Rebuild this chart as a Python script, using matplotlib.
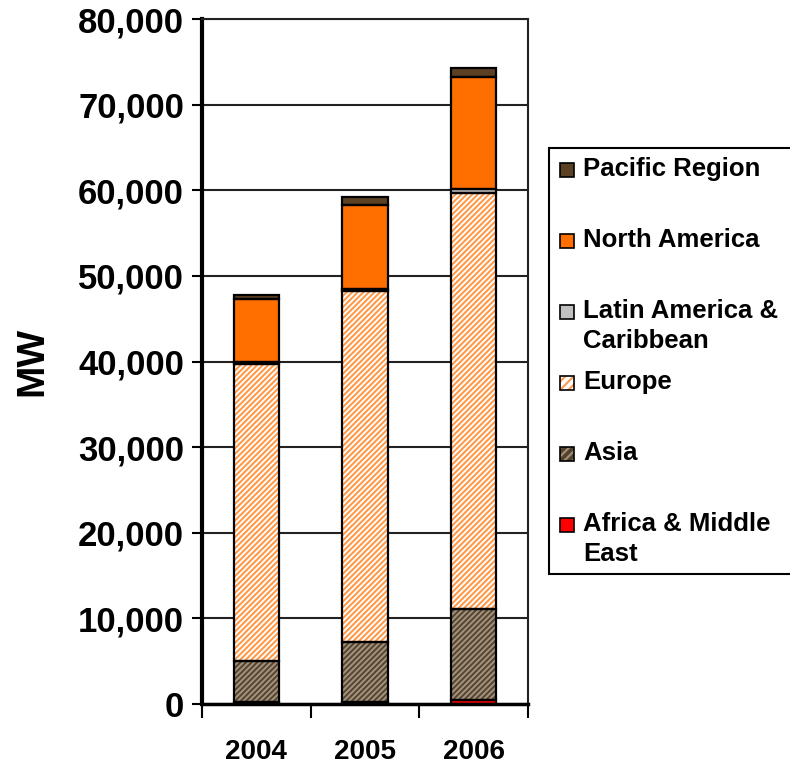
import numpy as np
import matplotlib.pyplot as plt
from matplotlib.patches import Rectangle

# Installed wind capacity by region, MW
years = ["2004", "2005", "2006"]
africa = [240, 269, 441]
asia = [4726, 7022, 10667]
europe = [34725, 40932, 48545]
latin_america = [215, 226, 507]
north_america = [7367, 9863, 13062]
pacific = [547, 842, 1020]

regions = ["Africa & Middle\nEast", "Asia", "Europe",
           "Latin America &\nCaribbean", "North America", "Pacific Region"]
series = [africa, asia, europe, latin_america, north_america, pacific]
faces = ["#ff0000", "#56412a", "white", "#c0c0c0", "#ff6f00", "#5c4023"]
hatches = [None, "//////", "//////", None, None, None]
hatch_cols = ["#ff0000", "#9e917f", "#ff9a4a", "#c0c0c0", "#ff6f00", "#5c4023"]

plt.rcParams["font.family"] = ["Liberation Sans", "DejaVu Sans"]
plt.rcParams["font.weight"] = "bold"
plt.rcParams["hatch.linewidth"] = 1.5

fig = plt.figure(figsize=(7.9, 7.66), dpi=100)
ax = fig.add_axes([202 / 790, 62 / 766, 326 / 790, 685 / 766])

x = np.arange(len(years)) + 0.5
width = 0.42
bottom = np.zeros(len(years))
for vals, fc, h, hc in zip(series, faces, hatches, hatch_cols):
    vals = np.array(vals)
    # fill + hatch first, then the black outline on top
    ax.bar(x, vals, width, bottom=bottom, color=fc, hatch=h, edgecolor=hc,
           linewidth=0, zorder=2)
    ax.bar(x, vals, width, bottom=bottom, fill=False, edgecolor="black",
           linewidth=1.6, zorder=3)
    bottom += vals

ax.set_xlim(0, 3)
ax.set_ylim(0, 80000)
ax.set_yticks(np.arange(0, 80001, 10000))
ax.set_yticklabels([f"{v:,}" for v in range(0, 80001, 10000)], fontsize=25,
                   fontweight="bold")
ax.yaxis.grid(True, color="#222222", linewidth=1.5, zorder=1)
ax.set_axisbelow(True)

ax.set_xticks([0, 1, 2, 3])
ax.set_xticklabels([])
ax.set_xticks(x, minor=True)
ax.set_xticklabels(years, minor=True, fontsize=20, fontweight="bold")
ax.tick_params(axis="x", which="major", length=10, width=1.5, direction="out")
ax.tick_params(axis="x", which="minor", length=0, pad=25)
ax.tick_params(axis="y", length=7, width=1.5, pad=6)

for side in ["top", "right"]:
    ax.spines[side].set_linewidth(1.5)
    ax.spines[side].set_color("#222222")
ax.spines["left"].set_linewidth(3)
ax.spines["bottom"].set_linewidth(2.5)

ax.set_ylabel("MW", fontsize=28, fontweight="bold", labelpad=20)

# legend drawn by hand to keep the Excel-like spacing
fig.patches.append(Rectangle((549 / 790, 1 - 574 / 766), 0.4, 426 / 766,
                             transform=fig.transFigure, facecolor="white",
                             edgecolor="black", linewidth=1.5))
for i, (name, fc, h, hc) in enumerate(zip(regions[::-1], faces[::-1],
                                           hatches[::-1], hatch_cols[::-1])):
    yc = 170 + 71 * i
    fig.patches.append(Rectangle((560 / 790, 1 - (yc + 7) / 766), 14 / 790,
                                 14 / 766, transform=fig.transFigure,
                                 facecolor=fc, hatch=("////" if h else None),
                                 edgecolor=hc, linewidth=0))
    fig.patches.append(Rectangle((560 / 790, 1 - (yc + 7) / 766), 14 / 790,
                                 14 / 766, transform=fig.transFigure,
                                 fill=False, edgecolor="black", linewidth=1.2))
    fig.text(583 / 790, 1 - (yc - 13) / 766, name, fontsize=18.5,
             fontweight="bold", va="top", ha="left", linespacing=1.32)

fig.savefig("out.png", dpi=100)
